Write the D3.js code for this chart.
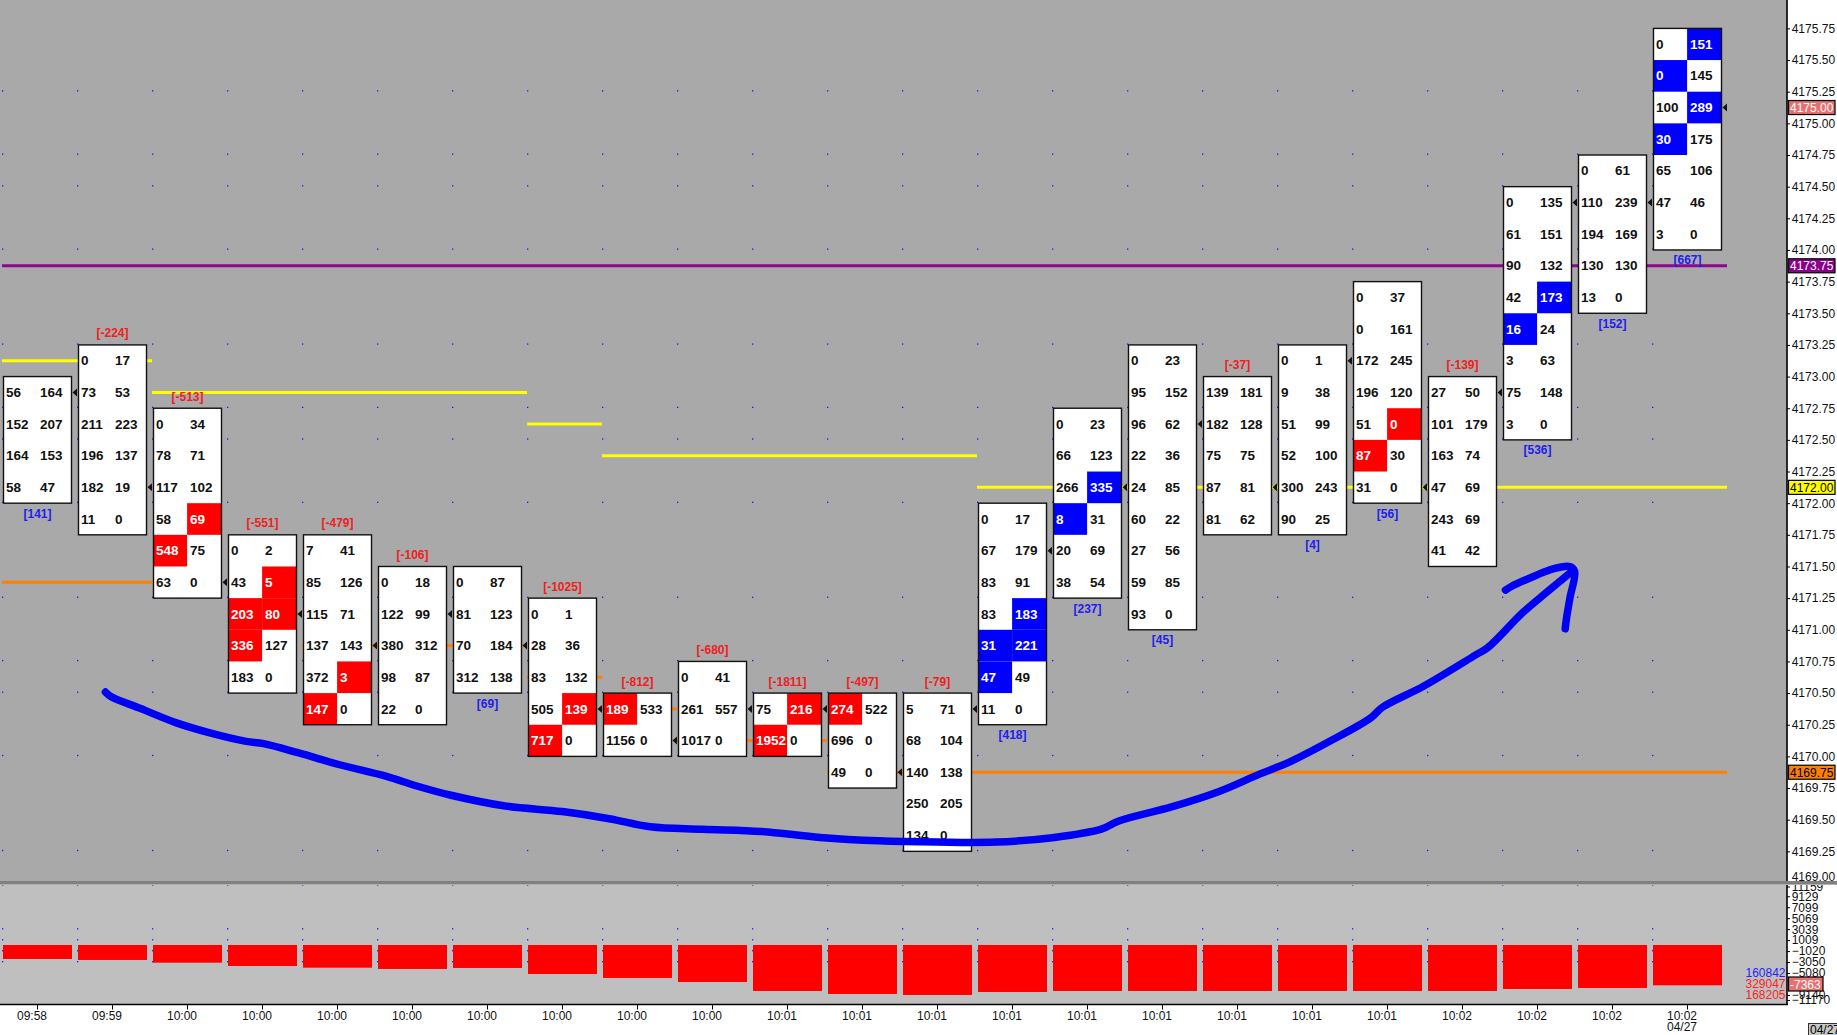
<!DOCTYPE html>
<html><head><meta charset="utf-8">
<script src="https://d3js.org/d3.v7.min.js"></script>
<style>
html,body{margin:0;padding:0;background:#fff;overflow:hidden}
svg{display:block}
text{font-family:"Liberation Sans",Arial,sans-serif}
</style></head><body>
<svg id="c" width="1837" height="1035"></svg>
<script>
const tickSize = 0.25;
const timeLabels = ["09:58","09:59","10:00","10:00","10:00","10:00","10:00","10:00","10:00","10:00","10:01","10:01","10:01","10:01","10:01","10:01","10:01","10:01","10:01","10:02","10:02","10:02","10:02"];
const topPrices = [4173,4173.25,4172.75,4171.75,4171.75,4171.5,4171.5,4171.25,4170.5,4170.75,4170.5,4170.5,4170.5,4172,4172.75,4173.25,4173,4173.25,4173.75,4173,4174.5,4174.75,4175.75];
const bidValues = [
 [56,152,164,58],[0,73,211,196,182,11],[0,78,117,58,548,63],[0,43,203,336,183],[7,85,115,137,372,147],
 [0,122,380,98,22],[0,81,70,312],[0,28,83,505,717],[189,1156],[0,261,1017],[75,1952],[274,696,49],
 [5,68,140,250,134],[0,67,83,83,31,47,11],[0,66,266,8,20,38],[0,95,96,22,24,60,27,59,93],[139,182,75,87,81],
 [0,9,51,52,300,90],[0,0,172,196,51,87,31],[27,101,163,47,243,41],[0,61,90,42,16,3,75,3],[0,110,194,130,13],[0,0,100,30,65,47,3]];
const askValues = [
 [164,207,153,47],[17,53,223,137,19,0],[34,71,102,69,75,0],[2,5,80,127,0],[41,126,71,143,3,0],
 [18,99,312,87,0],[87,123,184,138],[1,36,132,139,0],[533,0],[41,557,0],[216,0],[522,0,0],
 [71,104,138,205,0],[17,179,91,183,221,49,0],[23,123,335,31,69,54],[23,152,62,36,85,22,56,85,0],[181,128,75,81,62],
 [1,38,99,100,243,25],[37,161,245,120,0,30,0],[50,179,74,69,69,42],[135,151,132,173,24,63,148,0],[61,239,169,130,0],[151,145,289,175,106,46,0]];
const barDeltas = [141,-224,-513,-551,-479,-106,69,-1025,-812,-680,-1811,-497,-79,418,237,45,-37,4,56,-139,536,152,667];
const closePrices = [4172.75,4172,4171.25,4171,4170.75,4171,4170.75,4170.25,4170,4170.25,4170.25,4169.75,4170.25,4171.5,4172,4172.5,4172,4173,4172,4172.75,4174.25,4174.25,4175];
const bidHighlights = {2:[4],3:[2,3],4:[5],7:[4],8:[0],10:[1],11:[0],13:[4,5],14:[3],18:[5],20:[4],22:[1,3]};
const askHighlights = {2:[3],3:[1,2],4:[4],7:[3],10:[0],13:[3,4],14:[2],18:[4],20:[3],22:[0,2]};
const cumDelta = [-2481,-2667,-3167,-3778,-4093,-4333,-4148,-5259,-6000,-6741,-8407,-8963,-9148,-8593,-8407,-8407,-8407,-8407,-8407,-8407,-8037,-7852,-7363];
const priceTicks = d3.range(4169,4175.76,0.25);
const deltaTicks = [11159,9129,7099,5069,3039,1009,-1020,-3050,-5080,-9140,-11170];
const gridPrices = [4175.25,4174.75,4174.5,4174,4173.25,4172.75,4172.5,4172,4171.25,4170.75,4170.5,4170,4169.25];
const gridDeltas = [11159,3039,1009,-1020,-3050];
// level segments: [from column, to column, price]
const yellowLevels = [[0,2,4173],[2,7,4172.75],[7,8,4172.5],[8,13,4172.25],[13,23,4172]];
const orangeLevels = [[0,2,4171.25],[3,4,4171],[4,7,4170.75],[7,8,4170.5],[8,9,4170.25],[9,11,4170],[11,23,4169.75]];
const purpleLevels = [[0,23,4173.75]];
// hand-drawn annotation: [column, price]
const curveStroke = [[1.379,4170.508],[1.457,4170.471],[1.848,4170.378],[2.316,4170.267],[2.785,4170.184],[3.254,4170.119],[3.488,4170.101],[3.957,4170.027],[4.503,4169.934],[5.128,4169.842],[5.519,4169.768],[5.987,4169.693],[6.69,4169.61],[7.471,4169.564],[8.096,4169.508],[8.643,4169.444],[9.346,4169.425],[10.127,4169.407],[10.908,4169.36],[11.689,4169.333],[12.47,4169.323],[13.251,4169.323],[14.032,4169.36],[14.657,4169.425],[14.891,4169.49],[15.594,4169.601],[16.219,4169.721],[16.766,4169.86],[17.157,4169.953],[17.703,4170.119],[18.25,4170.304],[18.406,4170.388],[18.953,4170.554],[19.656,4170.804],[19.812,4170.86],[20.281,4171.138],[20.593,4171.295],[20.953,4171.471]];
const arrowStroke = [[20.046,4171.314],[20.124,4171.342],[20.436,4171.425],[20.671,4171.48],[20.905,4171.499],[20.968,4171.462],[20.905,4171.249],[20.858,4171.082],[20.843,4171.008]];
const priceTags = [[4175,"#e87070","#fff"],[4173.75,"#8b008b","#fff"],[4172,"#ffff00","#000"],[4169.75,"#ff8000","#000"]];
const sideTotals = [["160842","#2222ff",972.7],["329047","#ff2222",984],["168205","#ff2222",994.7]];

const svg = d3.select("#c");
const axisX = 1787, paneBottom = 880.5, lowTop = 885, lowBottom = 1004;
const x = d3.scaleLinear().domain([0,23]).range([2,1727]);
const y = d3.scaleLinear().domain([4169,4175.75]).range([883,28.4]);
const yLow = d3.scaleLinear().domain([11159,-11170]).range([885.3,1005.9]);
const rowMid = p => y(p + tickSize/2);
const colW = x(1)-x(0), boxOff = 1.5, boxW = 68;
const FS = 13.5;

svg.append("rect").attr("x",0).attr("y",0).attr("width",axisX).attr("height",lowTop).attr("fill","#a9a9a9");
svg.append("rect").attr("x",0).attr("y",lowTop).attr("width",axisX).attr("height",lowBottom-lowTop).attr("fill","#bfbfbf");

// grid dots
const columns = d3.range(23);
const dots = svg.append("g").attr("fill","#1a1aff");
columns.forEach(k=>{
  dots.selectAll(null).data(gridPrices).join("rect").attr("x",x(k)).attr("y",d=>y(d)-1.5).attr("width",1.3).attr("height",1.3);
  dots.selectAll(null).data(gridDeltas).join("rect").attr("x",x(k)).attr("y",d=>yLow(d)-1).attr("width",1.3).attr("height",1.3);
});

// level lines
function levels(data,color){
  svg.append("g").selectAll("line").data(data).join("line")
    .attr("x1",d=>x(d[0])).attr("x2",d=>x(d[1]))
    .attr("y1",d=>rowMid(d[2])).attr("y2",d=>rowMid(d[2]))
    .attr("stroke",color).attr("stroke-width",3);
}
levels(purpleLevels,"#8b0a8b");
levels(orangeLevels,"#ff8000");
levels(yellowLevels,"#ffff00");

// footprint bars
const bars = svg.append("g");
columns.forEach(i=>{
  const g = bars.append("g");
  const left = x(i)+boxOff, T = topPrices[i], n = bidValues[i].length;
  const hlColor = barDeltas[i] > 0 && i!==18 ? "#0000ff" : "#ff0000";
  const top = y(T), bottom = y(T-n*tickSize);
  g.append("rect").attr("x",left).attr("y",top).attr("width",boxW).attr("height",bottom-top).attr("fill","#fff");
  const split = left+33.6;
  const bh = bidHighlights[i]||[], ah = askHighlights[i]||[];
  g.selectAll("rect.b").data(bh).join("rect").attr("class","b").attr("x",left).attr("width",split-left)
    .attr("y",d=>y(T-d*tickSize)).attr("height",d=>y(T-(d+1)*tickSize)-y(T-d*tickSize)).attr("fill",hlColor);
  g.selectAll("rect.a").data(ah).join("rect").attr("class","a").attr("x",split).attr("width",left+boxW-split)
    .attr("y",d=>y(T-d*tickSize)).attr("height",d=>y(T-(d+1)*tickSize)-y(T-d*tickSize)).attr("fill",hlColor);
  g.append("rect").attr("x",left).attr("y",top).attr("width",boxW).attr("height",bottom-top)
    .attr("fill","none").attr("stroke","#111").attr("stroke-width",1.4);
  g.selectAll("text.b").data(bidValues[i]).join("text").attr("class","b")
    .attr("x",left+2.5).attr("y",(d,r)=>rowMid(T-(r+1)*tickSize)+4.6)
    .attr("font-size",FS).attr("font-weight","bold")
    .attr("fill",(d,r)=>bh.includes(r)?"#fff":"#111").text(d=>d);
  g.selectAll("text.a").data(askValues[i]).join("text").attr("class","a")
    .attr("x",split+2.8).attr("y",(d,r)=>rowMid(T-(r+1)*tickSize)+4.6)
    .attr("font-size",FS).attr("font-weight","bold")
    .attr("fill",(d,r)=>ah.includes(r)?"#fff":"#111").text(d=>d);
  // delta label
  const dl = barDeltas[i];
  g.append("text").attr("x",left+boxW/2).attr("y",dl<0?top-7.5:bottom+14.5)
    .attr("text-anchor","middle").attr("font-size",12).attr("font-weight","bold")
    .attr("fill",dl<0?"#f02020":"#2020f0").text("["+dl+"]");
  // close marker
  const cy = rowMid(closePrices[i]), ax = left+boxW+1;
  g.append("path").attr("d",`M${ax},${cy} L${ax+4.5},${cy-4} L${ax+4.5},${cy+4} Z`).attr("fill","#111");
});

// hand-drawn annotation
const line = d3.line().x(d=>x(d[0])).y(d=>y(d[1])).curve(d3.curveCatmullRom);
[curveStroke,arrowStroke].forEach(s=>{
  svg.append("path").attr("d",line(s)).attr("fill","none").attr("stroke","#0000f5")
    .attr("stroke-width",7.5).attr("stroke-linecap","round").attr("stroke-linejoin","round");
});

// lower pane bars
svg.append("g").selectAll("rect").data(cumDelta).join("rect")
  .attr("x",(d,i)=>x(i)+1).attr("width",69)
  .attr("y",Math.floor(yLow(0))).attr("height",d=>yLow(d)-Math.floor(yLow(0)))
  .attr("fill","#ff0000");

// time axis
const timeAxis = svg.append("g");
svg.append("line").attr("x1",0).attr("x2",axisX+1).attr("y1",lowBottom+0.5).attr("y2",lowBottom+0.5).attr("stroke","#000").attr("stroke-width",1.6);
columns.forEach(i=>{
  const cx = x(i)+boxOff+boxW/2;
  timeAxis.append("line").attr("x1",cx).attr("x2",cx).attr("y1",lowBottom).attr("y2",lowBottom+5.5).attr("stroke","#000");
  timeAxis.append("text").attr("x",cx-5.5).attr("y",1020).attr("text-anchor","middle").attr("font-size",12).attr("fill","#111").text(timeLabels[i]);
});
timeAxis.append("text").attr("x",x(22)+boxOff+boxW/2-5.5).attr("y",1030.5).attr("text-anchor","middle").attr("font-size",12).attr("fill","#111").text("04/27");

// right axes
const priceAxis = d3.axisRight(y).tickValues(priceTicks).tickSize(3).tickPadding(1.7).tickFormat(d3.format(".2f"));
const pa = svg.append("g").attr("transform",`translate(${axisX},0)`).call(priceAxis);
pa.select(".domain").remove();
pa.selectAll("text").attr("font-size",12).attr("fill","#111").style("font-family",'"Liberation Sans"');
pa.selectAll(".tick").filter(d=>d===4169).select("text").attr("y",-6);
pa.selectAll(".tick").filter(d=>d===4169).select("line").remove();

const lowAxis = d3.axisRight(yLow).tickValues(deltaTicks).tickSize(3).tickPadding(1.7).tickFormat(d3.format("d"));
const la = svg.append("g").attr("transform",`translate(${axisX},0)`).call(lowAxis);
la.select(".domain").remove();
la.selectAll("text").attr("font-size",12).attr("fill","#111").style("font-family",'"Liberation Sans"');
la.selectAll(".tick").filter(d=>d===-11170).attr("transform",`translate(0,1000.5)`);
la.selectAll(".tick").filter(d=>d===11159).attr("transform",`translate(0,887)`);

svg.append("line").attr("x1",axisX).attr("x2",axisX).attr("y1",0).attr("y2",lowBottom+1).attr("stroke","#000").attr("stroke-width",1.6);
// pane separator
svg.append("rect").attr("x",0).attr("y",paneBottom+0.5).attr("width",1837).attr("height",3).attr("fill","#808080");
svg.append("rect").attr("x",0).attr("y",paneBottom+3.5).attr("width",1837).attr("height",1).attr("fill","#b0b0b0");

// price tags
const tags = svg.append("g");
priceTags.forEach(([p,bg,fg])=>{
  const cy = rowMid(p);
  tags.append("rect").attr("x",1788.5).attr("y",cy-7).attr("width",46.5).attr("height",14).attr("fill",bg).attr("stroke","#000").attr("stroke-width",1.2);
  tags.append("text").attr("x",1790).attr("y",cy+4.5).attr("font-size",12).attr("fill",fg).text(d3.format(".2f")(p));
});
const lastDelta = cumDelta[cumDelta.length-1], tagY = 984;
tags.append("rect").attr("x",1788.5).attr("y",tagY-7).attr("width",34.5).attr("height",14).attr("fill","#e87070").attr("stroke","#000").attr("stroke-width",1.2);
tags.append("text").attr("x",1790).attr("y",tagY+4.5).attr("font-size",12).attr("fill","#fff").text(lastDelta);

// side totals
svg.append("g").selectAll("text").data(sideTotals).join("text")
  .attr("x",1785.5).attr("y",d=>d[2]+4.3).attr("text-anchor","end").attr("font-size",12)
  .attr("fill",d=>d[1]).text(d=>d[0]);

// date box
svg.append("rect").attr("x",1808.5).attr("y",1023.5).attr("width",40).attr("height",14).attr("fill","#c8c8c8").attr("stroke","#333");
svg.append("text").attr("x",1810).attr("y",1034).attr("font-size",12).attr("fill","#000").text("04/27");
</script>
</body></html>
